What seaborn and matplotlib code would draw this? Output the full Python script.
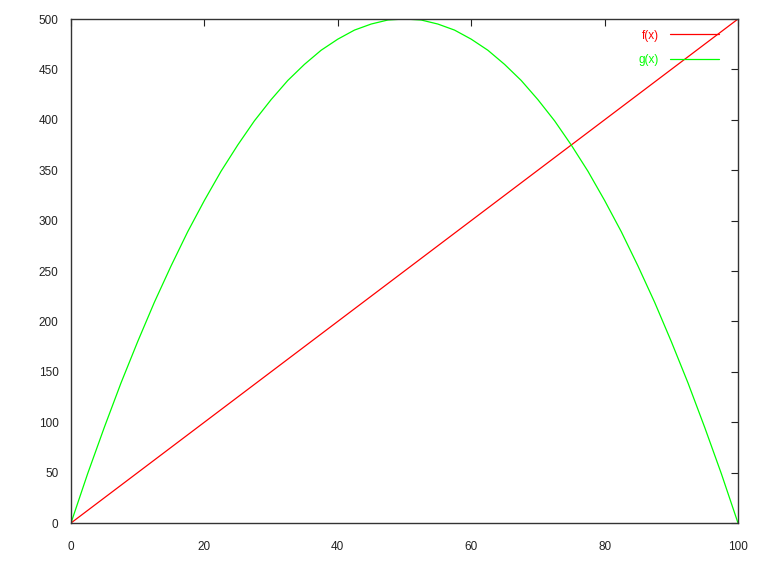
import matplotlib
matplotlib.use("Agg")
import matplotlib.pyplot as plt
import seaborn as sns
import pandas as pd

x_vals = [0, 2.5, 5, 7.5, 10, 12.5, 15, 17.5, 20, 22.5, 25, 27.5, 30, 32.5, 35, 37.5, 40, 42.5, 45, 47.5,
          50, 52.5, 55, 57.5, 60, 62.5, 65, 67.5, 70, 72.5, 75, 77.5, 80, 82.5, 85, 87.5, 90, 92.5, 95, 97.5, 100]
f_vals = [0, 12.5, 25, 37.5, 50, 62.5, 75, 87.5, 100, 112.5, 125, 137.5, 150, 162.5, 175, 187.5, 200, 212.5, 225, 237.5,
          250, 262.5, 275, 287.5, 300, 312.5, 325, 337.5, 350, 362.5, 375, 387.5, 400, 412.5, 425, 437.5, 450, 462.5, 475, 487.5, 500]
g_vals = [0, 49, 95, 139, 180, 219, 255, 289, 320, 349, 375, 399, 420, 439, 455, 469, 480, 489, 495, 499,
          500, 499, 495, 489, 480, 469, 455, 439, 420, 399, 375, 349, 320, 289, 255, 219, 180, 139, 95, 49, 0]
x_ticks = [0, 20, 40, 60, 80, 100]
y_ticks = [0, 50, 100, 150, 200, 250, 300, 350, 400, 450, 500]

sns.set_style("white")
plt.rcParams['font.family'] = ['Liberation Sans', 'DejaVu Sans']

df = pd.DataFrame({
    "x": x_vals * 2,
    "y": f_vals + g_vals,
    "series": ["f(x)"] * len(x_vals) + ["g(x)"] * len(x_vals),
})

fig = plt.figure(figsize=(7.7, 5.67), dpi=100)
ax = fig.add_axes([71/770, 1 - 523/567, (738 - 71)/770, (523 - 19)/567])
sns.lineplot(data=df, x="x", y="y", hue="series",
             palette={"f(x)": "#ff0000", "g(x)": "#00ff00"},
             linewidth=0.9, ax=ax, legend=True)

ax.set_xlim(0, 100)
ax.set_ylim(0, 500)
ax.set_xticks(x_ticks)
ax.set_yticks(y_ticks)
ax.set_xlabel("")
ax.set_ylabel("")
ax.tick_params(direction="in", length=5, width=0.8, top=True, right=True,
               labelsize=8.5, colors="#222222", pad=9)
ax.tick_params(axis="x", pad=13)
for s in ax.spines.values():
    s.set_visible(True)
    s.set_color("#333333")
    s.set_linewidth(1.0)

leg = ax.legend(loc="upper right", frameon=False, markerfirst=False,
                labelcolor="linecolor", fontsize=8.5, handlelength=4.2,
                handletextpad=0.9, labelspacing=1.05,
                bbox_to_anchor=(0.988, 1.0))

fig.savefig("out.png", dpi=100)
